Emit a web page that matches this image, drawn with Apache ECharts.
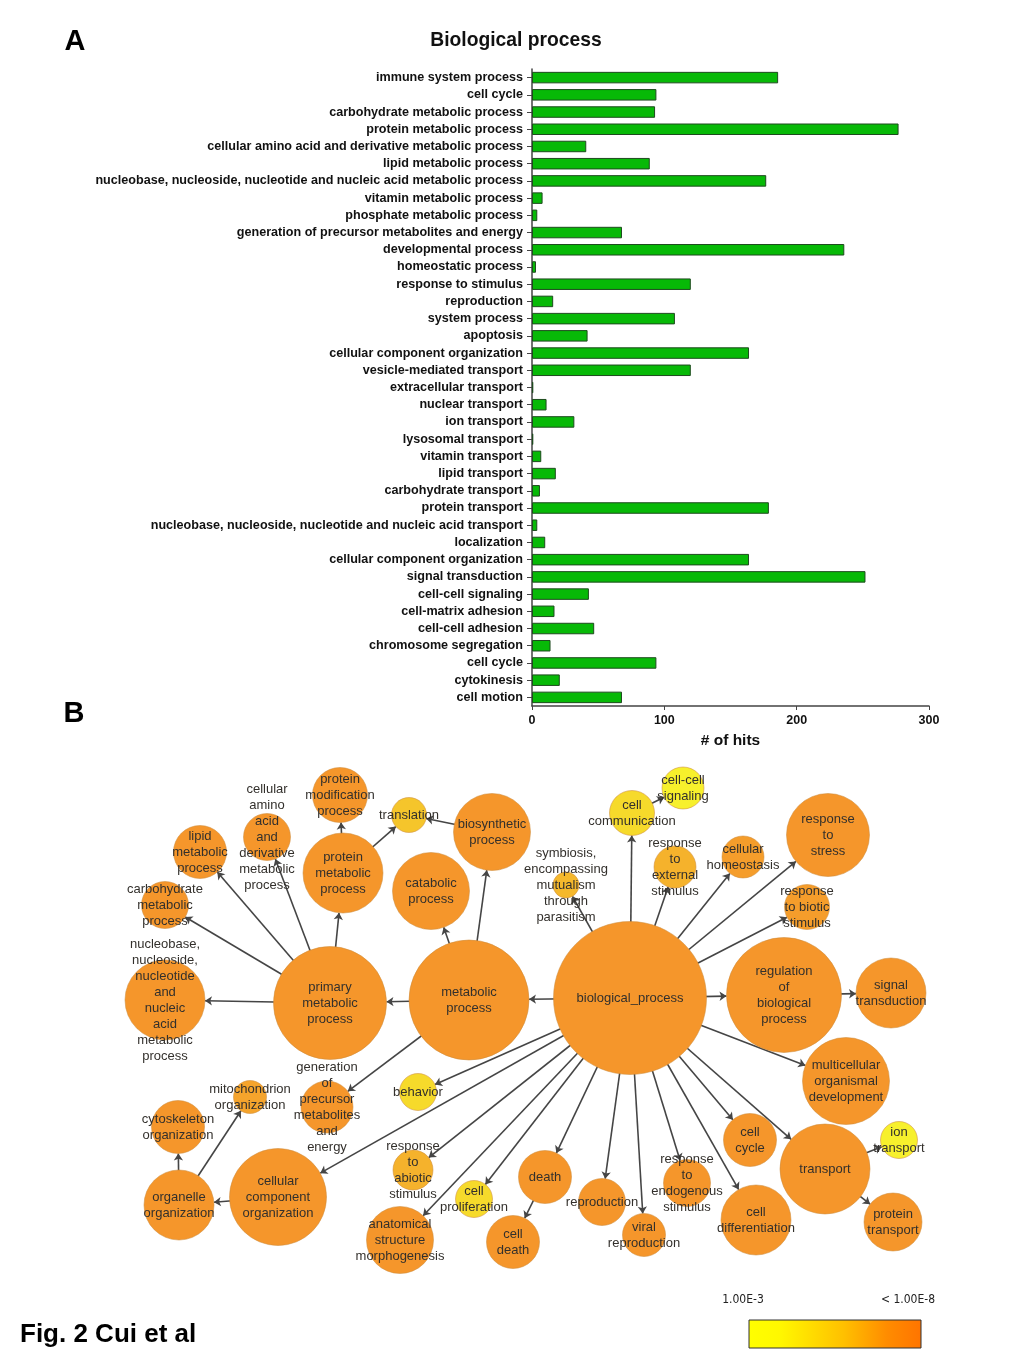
<!DOCTYPE html>
<html>
<head>
<meta charset="utf-8">
<script src="https://cdn.jsdelivr.net/npm/echarts@6/dist/echarts.min.js"></script>
<style>
html,body{margin:0;padding:0;background:#fff;}
#main{width:1024px;height:1365px;}
</style>
</head>
<body>
<div id="main"></div>
<script>
// ---------- Panel A data ----------
const categories = [
  'immune system process','cell cycle','carbohydrate metabolic process','protein metabolic process',
  'cellular amino acid and derivative metabolic process','lipid metabolic process',
  'nucleobase, nucleoside, nucleotide and nucleic acid metabolic process','vitamin metabolic process',
  'phosphate metabolic process','generation of precursor metabolites and energy','developmental process',
  'homeostatic process','response to stimulus','reproduction','system process','apoptosis',
  'cellular component organization','vesicle-mediated transport','extracellular transport',
  'nuclear transport','ion transport','lysosomal transport','vitamin transport','lipid transport',
  'carbohydrate transport','protein transport','nucleobase, nucleoside, nucleotide and nucleic acid transport',
  'localization','cellular component organization','signal transduction','cell-cell signaling',
  'cell-matrix adhesion','cell-cell adhesion','chromosome segregation','cell cycle','cytokinesis','cell motion'
];
const hits = [
  186, 94, 93, 277, 41, 89, 177, 8, 4, 68, 236, 3, 120, 16, 108, 42, 164, 120, 1,
  11, 32, 1, 7, 18, 6, 179, 4, 10, 164, 252, 43, 17, 47, 14, 94, 21, 68
];
const xTicks = [0, 100, 200, 300];

// ---------- Panel B data ----------
// node: name, label text, significance score (0 = 1.00E-3 yellow, 1 = <1.00E-8 orange)
const nodeNames = [
  'biological_process','metabolic process','primary metabolic process',
  'nucleobase, nucleoside, nucleotide and nucleic acid metabolic process',
  'carbohydrate metabolic process','lipid metabolic process',
  'cellular amino acid and derivative metabolic process','protein metabolic process',
  'protein modification process','translation','biosynthetic process','catabolic process',
  'generation of precursor metabolites and energy','cell communication','cell-cell signaling',
  'symbiosis, encompassing mutualism through parasitism','response to external stimulus',
  'cellular homeostasis','response to stress','response to biotic stimulus',
  'regulation of biological process','signal transduction','multicellular organismal development',
  'behavior','mitochondrion organization','cytoskeleton organization','organelle organization',
  'cellular component organization','response to abiotic stimulus','cell proliferation',
  'anatomical structure morphogenesis','death','cell death','reproduction','viral reproduction',
  'response to endogenous stimulus','cell cycle','cell differentiation','transport',
  'ion transport','protein transport'
];
const nodeLabels = [
  'biological_process','metabolic\nprocess','primary\nmetabolic\nprocess',
  'nucleobase,\nnucleoside,\nnucleotide\nand\nnucleic\nacid\nmetabolic\nprocess',
  'carbohydrate\nmetabolic\nprocess','lipid\nmetabolic\nprocess',
  'cellular\namino\nacid\nand\nderivative\nmetabolic\nprocess','protein\nmetabolic\nprocess',
  'protein\nmodification\nprocess','translation','biosynthetic\nprocess','catabolic\nprocess',
  'generation\nof\nprecursor\nmetabolites\nand\nenergy','cell\ncommunication','cell-cell\nsignaling',
  'symbiosis,\nencompassing\nmutualism\nthrough\nparasitism','response\nto\nexternal\nstimulus',
  'cellular\nhomeostasis','response\nto\nstress','response\nto biotic\nstimulus',
  'regulation\nof\nbiological\nprocess','signal\ntransduction','multicellular\norganismal\ndevelopment',
  'behavior','mitochondrion\norganization','cytoskeleton\norganization','organelle\norganization',
  'cellular\ncomponent\norganization','response\nto\nabiotic\nstimulus','cell\nproliferation',
  'anatomical\nstructure\nmorphogenesis','death','cell\ndeath','reproduction','viral\nreproduction',
  'response\nto\nendogenous\nstimulus','cell\ncycle','cell\ndifferentiation','transport',
  'ion\ntransport','protein\ntransport'
];
const nodeScore = [
  1,1,1,1,1,1,1,1,1,0.45,1,1,
  1,0.25,0.0,0.55,0.6,0.9,1,0.9,
  1,1,1,0.25,0.8,1,1,1,0.6,0.25,
  1,1,1,1,1,1,1,1,1,0.0,1
];
const edgeList = [
  ['biological_process','metabolic process'],['biological_process','cell communication'],
  ['biological_process','symbiosis, encompassing mutualism through parasitism'],
  ['biological_process','response to external stimulus'],['biological_process','cellular homeostasis'],
  ['biological_process','response to stress'],['biological_process','response to biotic stimulus'],
  ['biological_process','regulation of biological process'],['biological_process','multicellular organismal development'],
  ['biological_process','transport'],['biological_process','cell cycle'],['biological_process','cell differentiation'],
  ['biological_process','response to endogenous stimulus'],['biological_process','viral reproduction'],
  ['biological_process','reproduction'],['biological_process','death'],['biological_process','cell proliferation'],
  ['biological_process','anatomical structure morphogenesis'],['biological_process','response to abiotic stimulus'],
  ['biological_process','cellular component organization'],['biological_process','behavior'],
  ['metabolic process','primary metabolic process'],['metabolic process','catabolic process'],
  ['metabolic process','biosynthetic process'],['metabolic process','generation of precursor metabolites and energy'],
  ['primary metabolic process','nucleobase, nucleoside, nucleotide and nucleic acid metabolic process'],
  ['primary metabolic process','carbohydrate metabolic process'],['primary metabolic process','lipid metabolic process'],
  ['primary metabolic process','cellular amino acid and derivative metabolic process'],
  ['primary metabolic process','protein metabolic process'],
  ['protein metabolic process','protein modification process'],['protein metabolic process','translation'],
  ['biosynthetic process','translation'],
  ['cell communication','cell-cell signaling'],
  ['regulation of biological process','signal transduction'],
  ['cellular component organization','organelle organization'],
  ['organelle organization','cytoskeleton organization'],['organelle organization','mitochondrion organization'],
  ['death','cell death'],
  ['transport','ion transport'],['transport','protein transport']
];

// ---------- Panel B layout (page-pixel space of the hidden grid) ----------
const nodeLayout = [
  [630,998,153],[469,1000,120],[330,1003,113],[165,1000,80],[165,905,47],[200,852,53],
  [267,837,47],[343,873,80],[340,795,55],[409,815,35],[492,832,77],[431,891,77],
  [327,1107,52],[632,813,45],[683,788,42],[566,885,26],[675,867,42],[743,857,42],
  [828,835,83],[807,907,45],[784,995,115],[891,993,70],[846,1081,87],[418,1092,37],
  [250,1097,33],[178,1127,53],[179,1205,70],[278,1197,97],[413,1170,40],[474,1199,37],
  [400,1240,67],[545,1177,53],[513,1242,53],[602,1202,47],[644,1235,43],[687,1183,47],
  [750,1140,53],[756,1220,70],[825,1169,90],[899,1140,37],[893,1222,58]
];

function hex2rgb(h){return [parseInt(h.slice(1,3),16),parseInt(h.slice(3,5),16),parseInt(h.slice(5,7),16)];}
const colorStops = [[0,'#F7F02C'],[0.35,'#F5D12A'],[0.6,'#F5B22C'],[1,'#F5962B']];
function scoreColor(s){
  for(let i=1;i<colorStops.length;i++){
    if(s<=colorStops[i][0]){
      const a=colorStops[i-1], b=colorStops[i];
      const t=(s-a[0])/(b[0]-a[0]);
      const ca=hex2rgb(a[1]), cb=hex2rgb(b[1]);
      const c=ca.map((v,k)=>Math.round(v+(cb[k]-v)*t));
      return 'rgb('+c.join(',')+')';
    }
  }
  return colorStops[colorStops.length-1][1];
}

const graphNodes = nodeNames.map((n,i)=>({
  name:n,
  value:[nodeLayout[i][0],nodeLayout[i][1]],
  symbolSize:nodeLayout[i][2],
  labelText:nodeLabels[i],
  itemStyle:{color:scoreColor(nodeScore[i])}
}));
const graphLinks = edgeList.map(e=>({source:e[0],target:e[1]}));

const chart = echarts.init(document.getElementById('main'), null, {renderer:'canvas'});
const FONT = 'Liberation Sans, Arial, sans-serif';

const option = {
  backgroundColor:'#ffffff',
  animation:false,
  grid:[
    {left:532, top:69, width:397, height:637, containLabel:false},
    {left:0, top:0, width:1024, height:1365, show:false}
  ],
  xAxis:[
    {
      gridIndex:0, type:'value', min:0, max:300, interval:100,
      axisLine:{show:true, lineStyle:{color:'#444', width:1.5}},
      axisTick:{show:true, length:4, lineStyle:{color:'#444'}},
      splitLine:{show:false},
      axisLabel:{color:'#111', fontWeight:'bold', fontSize:12.5, fontFamily:FONT, margin:8,
        formatter:v=>xTicks.indexOf(v)>=0?String(v):''},
      name:'# of hits', nameLocation:'middle', nameGap:27,
      nameTextStyle:{color:'#111', fontWeight:'bold', fontSize:15.5, fontFamily:FONT}
    },
    {gridIndex:1, type:'value', min:0, max:1024, show:false}
  ],
  yAxis:[
    {
      gridIndex:0, type:'category', inverse:true,
      data:categories.map((c,i)=>String(i)),
      axisLine:{show:true, lineStyle:{color:'#444', width:1.5}},
      axisTick:{show:true, alignWithLabel:true, length:5, lineStyle:{color:'#444'}},
      axisLabel:{color:'#111', fontWeight:'bold', fontSize:12.6, fontFamily:FONT, margin:9,
        interval:0, formatter:(v,idx)=>categories[idx]}
    },
    {gridIndex:1, type:'value', min:0, max:1365, inverse:true, show:false}
  ],
  series:[
    {
      type:'bar', xAxisIndex:0, yAxisIndex:0,
      data:hits, barWidth:11.5,
      itemStyle:{color:'#07B907', borderColor:'#1E4A1E', borderWidth:1},
      silent:true
    },
    {
      type:'graph', coordinateSystem:'cartesian2d', xAxisIndex:1, yAxisIndex:1,
      layout:'none', roam:false, silent:true,
      data:graphNodes, links:graphLinks,
      edgeSymbol:['none','arrow'], edgeSymbolSize:[0,7],
      lineStyle:{color:'#454545', width:1.6, opacity:1, curveness:0},
      itemStyle:{borderColor:'rgba(205,140,60,0.55)', borderWidth:1},
      label:{show:true, position:'inside', color:'#33302c', fontSize:13, lineHeight:16,
        fontFamily:FONT, formatter:p=>p.data.labelText},
      emphasis:{disabled:true}
    }
  ],
  graphic:[
    {type:'text', x:75, y:42, style:{text:'A', fontSize:29, fontWeight:'bold', fontFamily:FONT, fill:'#000', align:'center', verticalAlign:'middle'}},
    {type:'text', x:516, y:41, style:{text:'Biological process', fontSize:19.3, fontWeight:'bold', fontFamily:FONT, fill:'#111', align:'center', verticalAlign:'middle'}},
    {type:'text', x:74, y:714, style:{text:'B', fontSize:29, fontWeight:'bold', fontFamily:FONT, fill:'#000', align:'center', verticalAlign:'middle'}},
    {type:'text', x:20, y:1335, style:{text:'Fig. 2 Cui et al', fontSize:26, fontWeight:'bold', fontFamily:FONT, fill:'#000', align:'left', verticalAlign:'middle'}},
    {type:'text', x:743, y:1300, style:{text:'1.00E-3', fontSize:12, fontFamily:'DejaVu Sans Condensed, DejaVu Sans', fill:'#222', align:'center', verticalAlign:'middle'}},
    {type:'text', x:908, y:1300, style:{text:'< 1.00E-8', fontSize:12, fontFamily:'DejaVu Sans Condensed, DejaVu Sans', fill:'#222', align:'center', verticalAlign:'middle'}},
    {type:'rect', shape:{x:749, y:1320, width:172, height:28},
      style:{stroke:'#333', lineWidth:1,
        fill:new echarts.graphic.LinearGradient(0,0,1,0,[
          {offset:0,color:'#FFFF00'},{offset:0.18,color:'#FFF800'},
          {offset:0.55,color:'#FFC000'},{offset:0.8,color:'#FF8C00'},{offset:1,color:'#FF7400'}])}}
  ]
};
chart.setOption(option);
</script>
</body>
</html>
